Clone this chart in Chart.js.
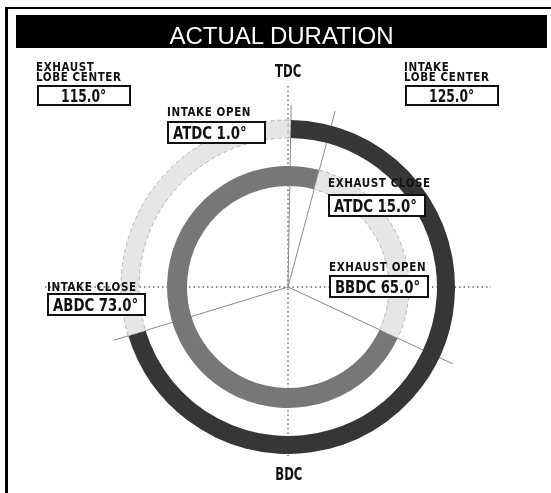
<!DOCTYPE html>
<html>
<head>
<meta charset="utf-8">
<script src="https://cdn.jsdelivr.net/npm/chart.js"></script>
<style>
  body { margin: 0; background: #fff; }
  #wrap { position: relative; width: 551px; height: 493px; overflow: hidden; }
  #frame { position: absolute; left: 5px; top: 7px; width: 560px; height: 500px; border-left: 3px solid #000; border-top: 2px solid #000; }
  #title { position: absolute; left: 16px; top: 15px; width: 531px; height: 33px; background: #000; color: #fff;
           font: 24px "Liberation Sans", Arial, sans-serif; text-align: center; line-height: 42px; }
  canvas { position: absolute; left: 0; top: 0; }
  .cap { position: absolute; font-family: "DejaVu Sans Condensed", "DejaVu Sans", sans-serif; font-weight: bold;
         color: #111; font-size: 11.5px; line-height: 10px; letter-spacing: 0.6px; white-space: nowrap; }
  .box { position: absolute; background: #fff; border: 2px solid #111; box-sizing: border-box;
         font-family: "DejaVu Sans Condensed", "DejaVu Sans", sans-serif; font-weight: bold; color: #111;
         font-size: 18px; white-space: nowrap; }
  .box span { display: inline-block; transform-origin: left center; }
  .tag { position: absolute; font-family: "DejaVu Sans Condensed", "DejaVu Sans", sans-serif; font-weight: bold;
         color: #111; font-size: 18px; white-space: nowrap; transform: scaleX(0.72); transform-origin: center; }
</style>
</head>
<body>
<div id="wrap">
  <canvas id="c" width="551" height="493"></canvas>
  <div id="frame"></div>
  <div id="title">ACTUAL DURATION</div>
</div>
<script>
// valve events
const eventNames = ['INTAKE OPEN', 'EXHAUST CLOSE', 'EXHAUST OPEN', 'INTAKE CLOSE'];
const eventRefs = ['ATDC', 'ATDC', 'BBDC', 'ABDC'];
const eventDegrees = [1.0, 15.0, 65.0, 73.0];
const lobeNames = ['EXHAUST', 'INTAKE'];
const lobeCenters = [115.0, 125.0];

// crank angle, clockwise from TDC
const intakeOpenAt = eventDegrees[0];
const exhaustCloseAt = eventDegrees[1];
const exhaustOpenAt = 180 - eventDegrees[2];
const intakeCloseAt = 180 + eventDegrees[3];
const eventAngles = [intakeOpenAt, exhaustCloseAt, exhaustOpenAt, intakeCloseAt];

const intakeSegments = [intakeOpenAt, intakeCloseAt - intakeOpenAt, 360 - intakeCloseAt];
const exhaustSegments = [exhaustCloseAt, exhaustOpenAt - exhaustCloseAt, 360 - exhaustOpenAt];

const DARK = '#363636', MID = '#777777', LIGHT = '#e6e6e6', EDGE = '#b4b4b4';

const guides = {
  id: 'guides',
  beforeDatasetsDraw(chart) {
    const arc = chart.getDatasetMeta(0).data[0];
    const cx = arc.x, cy = arc.y;
    const ctx = chart.ctx;
    ctx.save();
    ctx.strokeStyle = '#6e6e6e';
    ctx.lineWidth = 1.5;
    ctx.setLineDash([1.5, 3]);
    ctx.beginPath();
    ctx.moveTo(45, cy); ctx.lineTo(491, cy);
    ctx.moveTo(cx, 86); ctx.lineTo(cx, 456);
    ctx.stroke();
    ctx.setLineDash([]);
    ctx.lineWidth = 1;
    ctx.strokeStyle = '#8a8a8a';
    eventAngles.forEach(a => {
      const t = a * Math.PI / 180;
      ctx.beginPath();
      ctx.moveTo(cx, cy);
      ctx.lineTo(cx + 182 * Math.sin(t), cy - 182 * Math.cos(t));
      ctx.stroke();
    });
    ctx.restore();
  }
};

new Chart(document.getElementById('c'), {
  type: 'doughnut',
  data: {
    datasets: [
      { data: intakeSegments, backgroundColor: [LIGHT, DARK, LIGHT], borderColor: [EDGE, DARK, EDGE],
        borderWidth: [1, 0, 1], borderDash: [4, 3], weight: 18 },
      { data: [360], backgroundColor: ['rgba(0,0,0,0)'], borderWidth: 0, weight: 28 },
      { data: exhaustSegments, backgroundColor: [MID, LIGHT, MID], borderColor: [MID, EDGE, MID],
        borderWidth: [0, 1, 0], borderDash: [4, 3], weight: 20 }
    ]
  },
  options: {
    responsive: false,
    animation: false,
    events: [],
    radius: 167,
    cutout: (101 / 167 * 100) + '%',
    rotation: 0,
    layout: { padding: { left: 25, top: 81, right: 0, bottom: 0 } },
    plugins: { legend: { display: false }, tooltip: { enabled: false }, title: { display: false } }
  },
  plugins: [guides]
});

// text overlays
const wrap = document.getElementById('wrap');
function add(cls, html, css) {
  const d = document.createElement('div');
  d.className = cls;
  d.innerHTML = html;
  Object.assign(d.style, css);
  wrap.appendChild(d);
  return d;
}
function box(text, x, y, w, h, sx, centered) {
  const b = add('box', '<span>' + text + '</span>', { left: x + 'px', top: y + 'px', width: w + 'px', height: h + 'px',
    lineHeight: (h - 4) + 'px', paddingLeft: centered ? '0' : '4px', textAlign: centered ? 'center' : 'left' });
  b.firstChild.style.transform = 'scaleX(' + sx + ')';
  if (centered) b.firstChild.style.transformOrigin = 'center';
  return b;
}

// lobe centers
add('cap', lobeNames[0] + '<br>LOBE CENTER', { left: '36px', top: '62px' });
box(lobeCenters[0].toFixed(1) + '°', 37, 85, 94, 21, 0.76, true);
add('cap', lobeNames[1] + '<br>LOBE CENTER', { left: '404px', top: '62px' });
box(lobeCenters[1].toFixed(1) + '°', 405, 85, 94, 21, 0.76, true);

add('tag', 'TDC', { left: '270px', top: '60px' });
add('tag', 'BDC', { left: '270px', top: '463px' });

// events
const evPos = [[167, 107, 121, 99], [328, 178, 194, 98], [329, 262, 275, 100], [47, 282, 293, 99]];
eventNames.forEach((n, i) => {
  const p = evPos[i];
  add('cap', n, { left: p[0] + 'px', top: p[1] + 'px' });
  box(eventRefs[i] + ' ' + eventDegrees[i].toFixed(1) + '°', p[0], p[2], p[3], 23, 0.82, false);
});
</script>
</body>
</html>
